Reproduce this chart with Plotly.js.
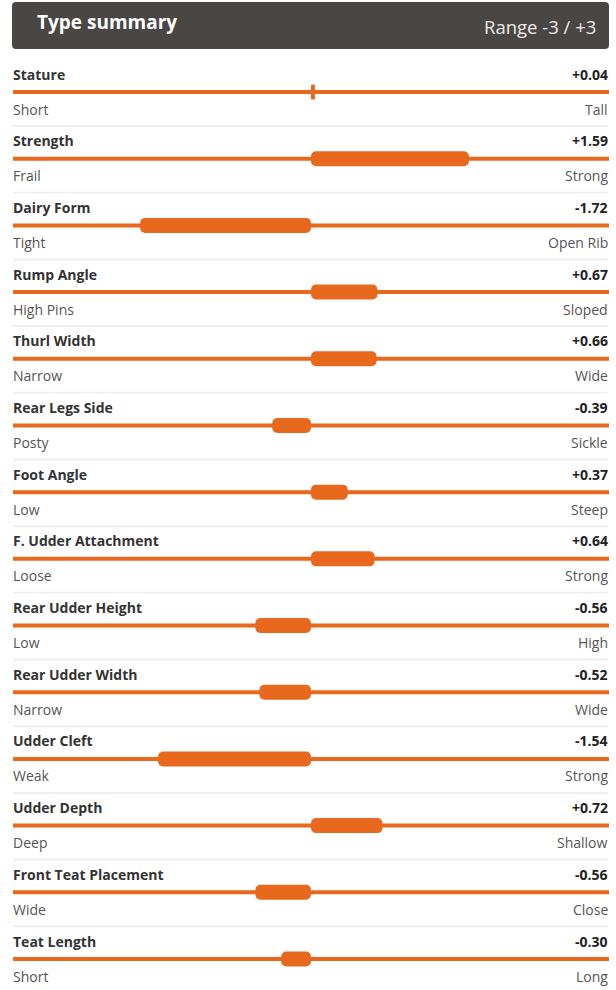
<!DOCTYPE html>
<html>
<head>
<meta charset="utf-8">
<script src="https://cdn.plot.ly/plotly-3.0.1.min.js"></script>
<style>
html,body{margin:0;padding:0;background:#fff;}
#chart{width:616px;height:990px;}
</style>
</head>
<body>
<div id="chart"></div>
<script>
// ---- data ----
const traits = ["Stature","Strength","Dairy Form","Rump Angle","Thurl Width","Rear Legs Side","Foot Angle","F. Udder Attachment","Rear Udder Height","Rear Udder Width","Udder Cleft","Udder Depth","Front Teat Placement","Teat Length"];
const values = [0.04,1.59,-1.72,0.67,0.66,-0.39,0.37,0.64,-0.56,-0.52,-1.54,0.72,-0.56,-0.30];
const lowLabels = ["Short","Frail","Tight","High Pins","Narrow","Posty","Low","Loose","Low","Narrow","Weak","Deep","Wide","Short"];
const highLabels = ["Tall","Strong","Open Rib","Sloped","Wide","Sickle","Steep","Strong","High","Wide","Strong","Shallow","Close","Long"];
const rangeMin = -3, rangeMax = 3;

// ---- layout helpers ----
const W = 616, H = 990;
const ORANGE = "#e8691e";
const FONT = "Open Sans, sans-serif";
const n = traits.length;
const rows = traits.map((_, i) => i);
const pxPerRow = (959 - 92) / (n - 1);
const yTop = -92 / pxPerRow;
const yBot = (n - 1) + (H - 959) / pxPerRow;
const px2y = p => p / pxPerRow;

const fmt = v => (v >= 0 ? "+" : "") + v.toFixed(2);

const track = {
  type: "bar", orientation: "h",
  y: rows, x: rows.map(() => rangeMax - rangeMin), base: rows.map(() => rangeMin),
  width: px2y(4), marker: {color: ORANGE, line: {width: 0}},
  hoverinfo: "skip", showlegend: false
};
const bars = {
  type: "bar", orientation: "h",
  y: rows, x: values, base: 0,
  width: px2y(15), marker: {color: ORANGE, line: {width: 0}, cornerradius: 5},
  hoverinfo: "skip", showlegend: false
};

const annotations = [];
const shapes = [];
// header
const hx0 = 12/W, hx1 = 609/W, hy0 = 1 - 49/H, hy1 = 1 - 2/H, rx = 4/W, ry = 4/H;
shapes.push({
  type: "path", xref: "paper", yref: "paper", layer: "below",
  path: `M ${hx0+rx} ${hy1} L ${hx1-rx} ${hy1} Q ${hx1} ${hy1} ${hx1} ${hy1-ry} L ${hx1} ${hy0+ry} Q ${hx1} ${hy0} ${hx1-rx} ${hy0} L ${hx0+rx} ${hy0} Q ${hx0} ${hy0} ${hx0} ${hy0+ry} L ${hx0} ${hy1-ry} Q ${hx0} ${hy1} ${hx0+rx} ${hy1} Z`,
  fillcolor: "#4a4643", line: {width: 0}
});
annotations.push({xref: "paper", yref: "paper", x: 35/W, y: 1 - 22/H, xanchor: "left", yanchor: "middle",
  text: "<b>Type summary</b>", showarrow: false, font: {family: FONT, size: 19, color: "#ffffff"}});
annotations.push({xref: "paper", yref: "paper", x: 598/W, y: 1 - 27/H, xanchor: "right", yanchor: "middle",
  text: "Range " + rangeMin + " / +" + rangeMax, showarrow: false, font: {family: FONT, size: 18.5, color: "#ececec"}});

rows.forEach(i => {
  annotations.push({xref: "paper", yref: "y", x: 11/W, y: i - px2y(18), xanchor: "left", yanchor: "middle",
    text: "<b>" + traits[i] + "</b>", showarrow: false, font: {family: FONT, size: 14, color: "#333333"}});
  annotations.push({xref: "paper", yref: "y", x: 610/W, y: i - px2y(18), xanchor: "right", yanchor: "middle",
    text: "<b>" + fmt(values[i]) + "</b>", showarrow: false, font: {family: FONT, size: 14, color: "#222222"}});
  annotations.push({xref: "paper", yref: "y", x: 11/W, y: i + px2y(17), xanchor: "left", yanchor: "middle",
    text: lowLabels[i], showarrow: false, font: {family: FONT, size: 14, color: "#555555"}});
  annotations.push({xref: "paper", yref: "y", x: 610/W, y: i + px2y(17), xanchor: "right", yanchor: "middle",
    text: highLabels[i], showarrow: false, font: {family: FONT, size: 14, color: "#555555"}});
  if (i < n - 1) {
    shapes.push({type: "line", xref: "paper", yref: "y", x0: 13/W, x1: 608/W, y0: i + px2y(34), y1: i + px2y(34),
      line: {color: "#eeeeee", width: 2}, layer: "below"});
  }
});

const layout = {
  width: W, height: H,
  margin: {l: 0, r: 0, t: 0, b: 0, pad: 0},
  paper_bgcolor: "#ffffff", plot_bgcolor: "#ffffff",
  barmode: "overlay",
  showlegend: false,
  xaxis: {domain: [13/W, 609/W], range: [rangeMin, rangeMax], visible: false, fixedrange: true},
  yaxis: {range: [yBot, yTop], visible: false, fixedrange: true},
  shapes: shapes,
  annotations: annotations
};

Plotly.newPlot("chart", [track, bars], layout, {displayModeBar: false, staticPlot: true});
</script>
</body>
</html>
